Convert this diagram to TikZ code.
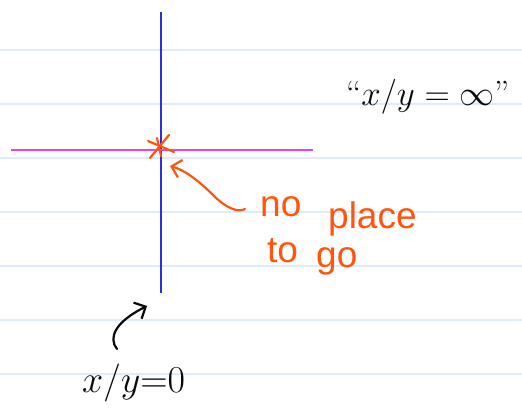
\RequirePackage{fix-cm}
\documentclass[tikz,border=0pt]{standalone}
\usepackage{fontspec}
\newfontfamily\handfont{Liberation Sans}
\usetikzlibrary{arrows.meta}
\definecolor{rulecol}{RGB}{222,236,250}
\definecolor{axisblue}{RGB}{45,45,225}
\definecolor{axismag}{RGB}{220,70,235}
\definecolor{inkorange}{RGB}{255,85,15}
\definecolor{ink}{RGB}{10,10,10}
\tikzset{
  ruleline/.style={rulecol, line width=1.2pt},
  axisline/.style={line width=1.8pt},
  orangepen/.style={inkorange, line width=2.2pt, line cap=round, line join=round},
  blackpen/.style={ink, line width=2.2pt, line cap=round, line join=round},
  barb/.style={-{Straight Barb[length=9pt,width=18pt,line width=2.2pt]}},
  orangetext/.style={inkorange, font=\handfont\fontsize{37}{40}\selectfont, anchor=base west, inner sep=0pt},
  blacktext/.style={ink, anchor=base west, inner sep=0pt}
}
\begin{document}
\begin{tikzpicture}[x=1pt,y=-1pt]
\useasboundingbox (0,0) rectangle (522,411);
\fill[white] (0,0) rectangle (522,411);
\foreach \yy in {50,104,158,212,266,320,374} \draw[ruleline] (0,\yy) -- (522,\yy);
% axes
\coordinate (vtop) at (161,12);
\coordinate (vbot) at (161,293);
\coordinate (hl) at (11,150);
\coordinate (hr) at (313,150);
\draw[axisline, axisblue] (vtop) -- (vbot);
\draw[axisline, axismag] (hl) -- (hr);
% asterisk
\coordinate (star) at (160,147);
\draw[orangepen] (star) ++(-10,11) -- ++(19,-23);
\draw[orangepen] (star) ++(-12,-6) -- ++(26,11);
\draw[orangepen] (star) ++(-3,-9) -- ++(4,18);
% texts
\node[orangetext] (np) at (260,217) {no};
\node[orangetext] (pl) at (328,229) {place};
\node[orangetext] (tg) at (267,263) {to};
\node[orangetext] (go) at (316,268) {go};
\node[blacktext, font=\fontsize{35}{38}\selectfont] (inf) at (346,106) {``$x/y=\infty$''};
\node[blacktext, font=\fontsize{38}{40}\selectfont] (zero) at (82,392) {$x/y{=}0$};
% arrows
\coordinate (otail) at (245,209);
\coordinate (otip) at (170,166);
\draw[orangepen, barb] (otail) .. controls (238,213) and (226,208) .. (213,195) .. controls (200,182) and (185,170) .. (otip);
\coordinate (btail) at (117,349);
\coordinate (btip) at (147,306);
\draw[blackpen, barb] (btail) .. controls (108,338) and (115,322) .. (btip);
\end{tikzpicture}
\end{document}
